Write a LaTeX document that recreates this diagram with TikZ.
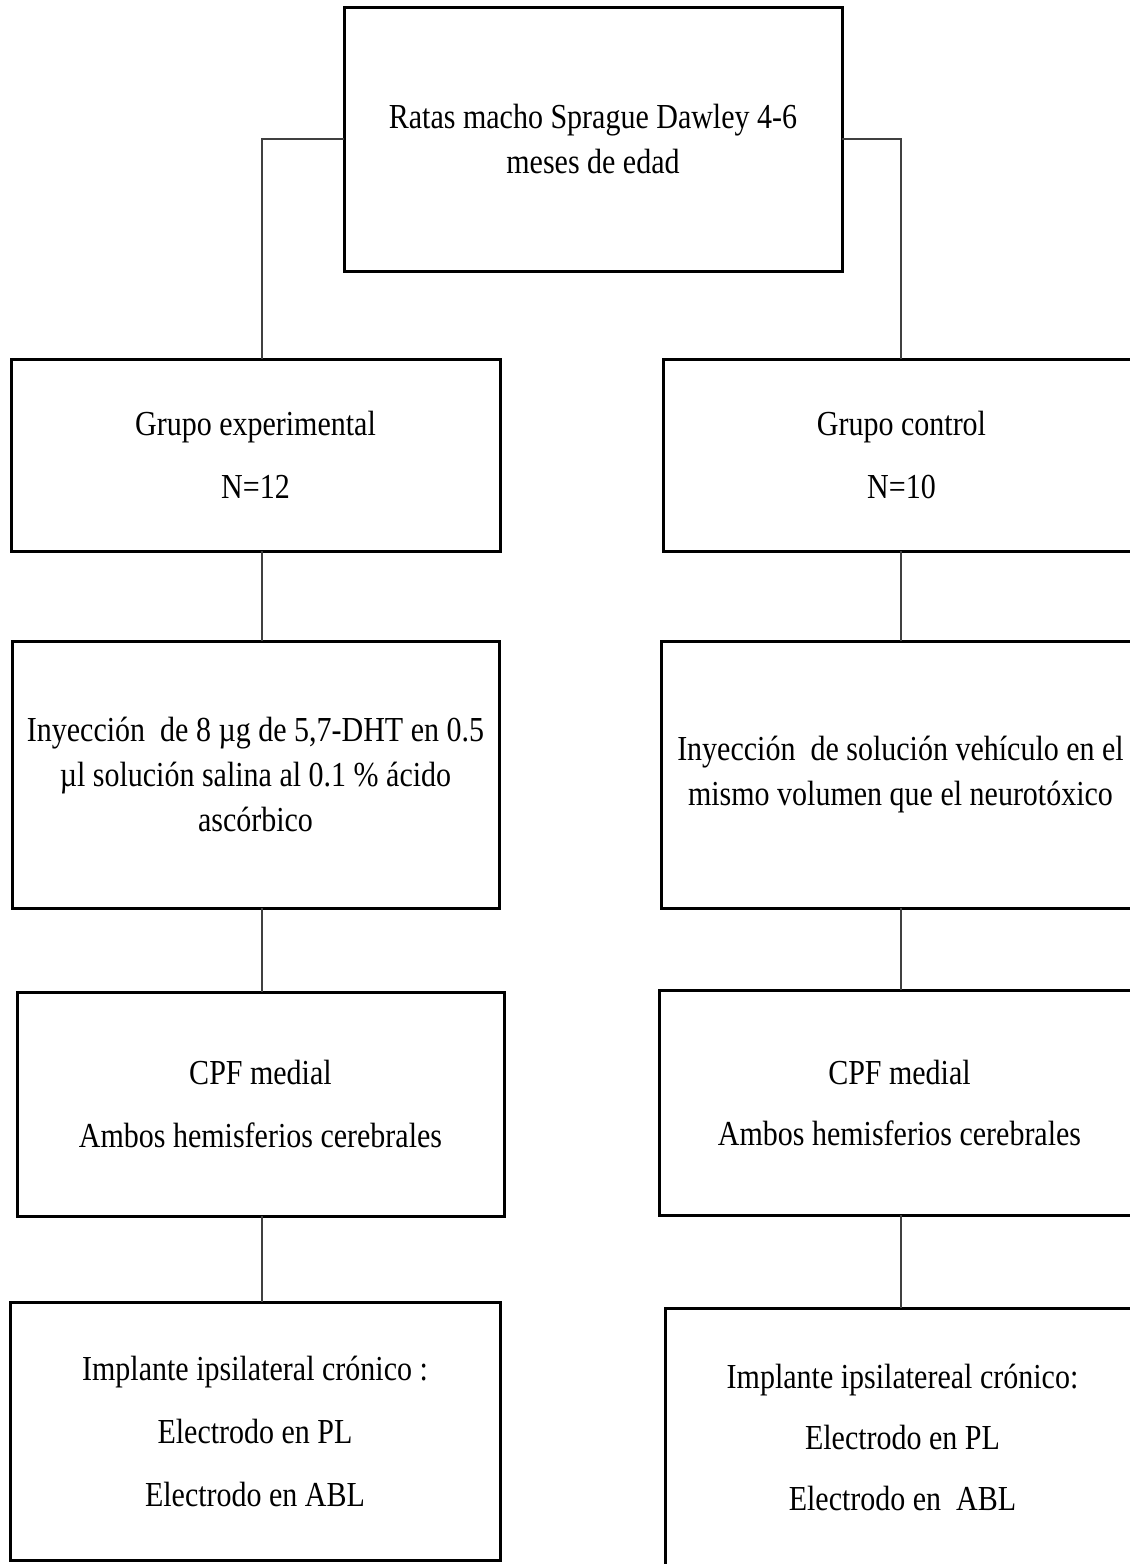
\documentclass[tikz,border=0pt]{standalone}
\usepackage{fontspec}
\setmainfont{Liberation Serif}
\usepackage{graphicx}
\usetikzlibrary{fit}
\newcommand{\vs}[1]{\scalebox{1}[1.17]{#1}}
\begin{document}
\begin{tikzpicture}[x=0.75pt,y=-0.75pt,
  flowbox/.style={draw=black, line width=2.25pt, inner sep=0pt, outer sep=0pt},
  flowtext/.style={inner sep=0pt, align=center, text=black,
    font=\fontsize{22.5pt}{#1}\selectfont},
  conn/.style={draw=black!75, line width=1pt}]
\clip (0,0) rectangle (1130,1564);
\fill[white] (0,0) rectangle (1130,1564);

\coordinate (cL) at (262,0);
\coordinate (cR) at (901,0);

% boxes
\node[flowbox, fit={(344,7) (842,271)}] (top) {};
\node[flowbox, fit={(11,359) (500,551)}] (gel) {};
\node[flowbox, fit={(663,359) (1140,551)}] (gcr) {};
\node[flowbox, fit={(12,641) (499,908)}] (injl) {};
\node[flowbox, fit={(661,641) (1140,908)}] (injr) {};
\node[flowbox, fit={(17,992) (504,1216)}] (cpfl) {};
\node[flowbox, fit={(659,990) (1140,1215)}] (cpfr) {};
\node[flowbox, fit={(10,1302) (500,1560)}] (impl) {};
\node[flowbox, fit={(665,1308) (1140,1567)}] (impr) {};

% texts
\node[flowtext=33.75pt] (topt) at (top.center)
  {\vs{Ratas macho Sprague Dawley 4-6}\\\vs{meses de edad}};
\node[flowtext=47.25pt] (gelt) at (gel.center)
  {\vs{Grupo experimental}\\\vs{N=12}};
\node[flowtext=47.25pt] (gcrt) at (gcr.center)
  {\vs{Grupo control}\\\vs{N=10}};
\node[flowtext=33.5pt] (injlt) at (injl.center)
  {\vs{Inyección~ de 8 µg de 5,7-DHT en 0.5}\\\vs{µl solución salina al 0.1 \% ácido}\\\vs{ascórbico}};
\node[flowtext=33.75pt] (injrt) at (injr.center)
  {\vs{Inyección~ de solución vehículo en el}\\\vs{mismo volumen que el neurotóxico}};
\node[flowtext=47.25pt] (cpflt) at (cpfl.center)
  {\vs{CPF medial}\\\vs{Ambos hemisferios cerebrales}};
\node[flowtext=45.75pt] (cpfrt) at (cpfr.center)
  {\vs{CPF medial}\\\vs{Ambos hemisferios cerebrales}};
\node[flowtext=47.25pt] (implt) at (impl.center)
  {\vs{Implante ipsilateral crónico :}\\\vs{Electrodo en PL}\\\vs{Electrodo en ABL}};
\node[flowtext=46pt] (imprt) at (impr.center)
  {\vs{Implante ipsilatereal crónico:}\\\vs{Electrodo en PL}\\\vs{Electrodo en~ ABL}};

% connectors
\draw[conn] (top.west) -| (gel.north -| cL);
\draw[conn] (top.east) -| (gcr.north -| cR);
\draw[conn] (gel.south -| cL) -- (injl.north -| cL);
\draw[conn] (injl.south -| cL) -- (cpfl.north -| cL);
\draw[conn] (cpfl.south -| cL) -- (impl.north -| cL);
\draw[conn] (gcr.south -| cR) -- (injr.north -| cR);
\draw[conn] (injr.south -| cR) -- (cpfr.north -| cR);
\draw[conn] (cpfr.south -| cR) -- (impr.north -| cR);
\end{tikzpicture}
\end{document}
